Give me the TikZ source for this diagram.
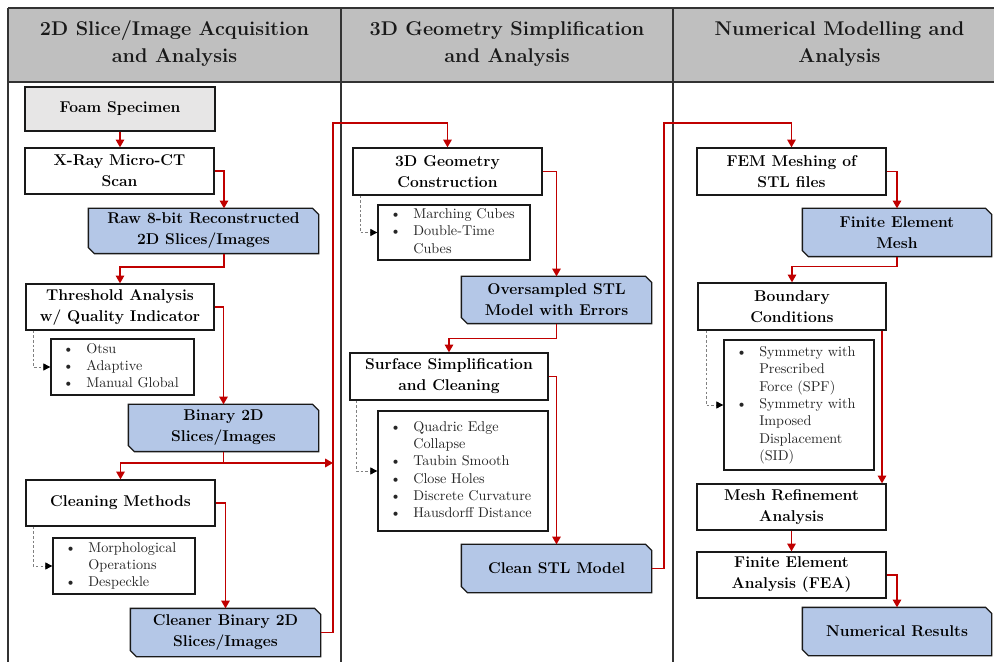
\documentclass[tikz,border=0pt]{standalone}
\usetikzlibrary{arrows.meta,backgrounds}
\definecolor{hdrgray}{HTML}{BFBFBF}
\definecolor{foamgray}{HTML}{E7E6E6}
\definecolor{boxblue}{HTML}{B4C7E7}
\definecolor{arrred}{HTML}{C00000}
\definecolor{framegray}{HTML}{333333}
\newcommand\pxu{0.704pt}
\newcommand\chamf[1]{\filldraw[fill=boxblue,draw=black!90,line width=0.9pt] (#1.north west) -- ([xshift=-6*\pxu]#1.north east) -- ([yshift=-6*\pxu]#1.north east) -- (#1.south east) -- ([xshift=6*\pxu]#1.south west) -- ([yshift=6*\pxu]#1.south west) -- cycle;}
\newcommand\lst[1]{\begin{tabular}{@{}l@{\hspace{8.6pt}}l@{}}#1\end{tabular}}
\begin{document}
\begin{tikzpicture}[x=\pxu,y=-\pxu,
  box/.style={draw=black!90, line width=0.9pt, fill=white, inner sep=0pt, align=center, font=\fontsize{11}{14.8}\selectfont\bfseries, text=black},
  sz/.style 2 args={minimum width={#1*\pxu}, minimum height={#2*\pxu}},
  bluebox/.style={box, draw=none, fill=none},
  listbox/.style={draw=black!90, line width=0.9pt, fill=white, inner xsep=8.45pt, inner ysep=0pt, align=left, font=\fontsize{10}{12.2}\selectfont, text=black!85},
  hdr/.style={font=\fontsize{14}{19}\selectfont\bfseries, align=center, text=black!90},
  frame/.style={draw=framegray, line width=0.9pt},
  arr/.style={draw=arrred, line width=1.1pt, -{Triangle[length=5.5pt,width=6pt]}},
  redline/.style={draw=arrred, line width=1.1pt},
  dotarr/.style={draw=gray, line width=0.6pt, dash pattern=on 1.8pt off 1.5pt, -{Triangle[length=5pt,width=5pt,color=black]}}
]
\useasboundingbox (0,0) rectangle (994,662);
\clip (0,0) rectangle (994,662);
% header and frame
\fill[hdrgray] (8,8) rectangle (1006,82);
\draw[frame] (8,8) -- (1006,8) (8,82) -- (1006,82)
  (8,8) -- (8,700) (341,8) -- (341,700) (673,8) -- (673,700) (1006,8) -- (1006,700);
\node[hdr] (h1) at (174.5,44) {2D Slice/Image Acquisition\\and Analysis};
\node[hdr] (h2) at (507,44) {3D Geometry Simplification\\and Analysis};
\node[hdr] (h3) at (839.5,44) {Numerical Modelling and\\Analysis};
% column 1
\node[box, fill=foamgray, sz={190}{44}] (foam) at (120,109) {Foam Specimen};
\node[box, sz={189}{46}] (xray) at (119.5,171) {X-Ray Micro-CT\\Scan};
\node[bluebox, sz={229}{44}] (raw) at (203.5,231) {Raw 8-bit Reconstructed\\2D Slices/Images};
\node[box, sz={188}{46}] (thresh) at (120,307) {Threshold Analysis\\w/ Quality Indicator};
\node[listbox, text width=83.78pt, sz={143}{56}] (list1) at (122.5,367) {\lst{\textbullet & Otsu\\ \textbullet & Adaptive\\ \textbullet & Manual Global}};
\node[bluebox, sz={189}{46}] (binary) at (223.5,428) {Binary 2D\\Slices/Images};
\node[box, sz={189}{46}] (cleaning) at (120.5,503) {Cleaning Methods};
\node[listbox, text width=83.07pt, sz={142}{56}] (list2) at (124,566) {\lst{\textbullet & Morphological\\ & Operations\\ \textbullet & Despeckle}};
\node[bluebox, sz={189}{47}] (cleaner) at (225.5,632.5) {Cleaner Binary 2D\\Slices/Images};
% column 2
\node[box, sz={189}{47}] (geo) at (447.5,171.5) {3D Geometry\\Construction};
\node[listbox, text width=90.11pt, sz={152}{55}] (list3) at (454,232.5) {\lst{\textbullet & Marching Cubes\\ \textbullet & Double-Time\\ & Cubes}};
\node[bluebox, sz={189}{46}] (over) at (556.5,300) {Oversampled STL\\Model with Errors};
\node[box, sz={198}{47}] (surf) at (449,376.5) {Surface Simplification\\and Cleaning};
\node[listbox, text width=102.78pt, sz={170}{120}] (list4) at (463,471) {\lst{\textbullet & Quadric Edge\\ & Collapse\\ \textbullet & Taubin Smooth\\ \textbullet & Close Holes\\ \textbullet & Discrete Curvature\\ \textbullet & Hausdorff Distance}};
\node[bluebox, sz={189}{47}] (clean) at (556.5,568.5) {Clean STL Model};
% column 3
\node[box, sz={189}{47}] (fem) at (791.5,171.5) {FEM Meshing of\\STL files};
\node[bluebox, sz={188}{47}] (mesh) at (897,232.5) {Finite Element\\Mesh};
\node[box, sz={188}{47}] (bc) at (792,306.5) {Boundary\\Conditions};
\node[listbox, text width=88.70pt, sz={150}{130}] (list5) at (799,405) {\lst{\textbullet & Symmetry with\\ & Prescribed\\ & Force (SPF)\\ \textbullet & Symmetry with\\ & Imposed\\ & Displacement\\ & (SID)}};
\node[box, sz={189}{46}] (refine) at (791.5,507) {Mesh Refinement\\Analysis};
\node[box, sz={189}{46}] (fea) at (791.5,575) {Finite Element\\Analysis (FEA)};
\node[bluebox, sz={188}{47}] (num) at (897,631.5) {Numerical Results};
\begin{pgfonlayer}{background}
\chamf{raw}\chamf{binary}\chamf{cleaner}\chamf{over}\chamf{clean}\chamf{mesh}\chamf{num}
\end{pgfonlayer}
% connectors column 1
\draw[arr] (foam.south) -- (foam.south |- xray.north);
\draw[arr] (xray.east) -| (224,0 |- raw.north);
\draw[arr] (224,0 |- raw.south) -- (224,267) -| (thresh.north);
\draw[dotarr] (33,0 |- thresh.south) |- (list1.west);
\draw[arr] (thresh.east) -| (binary.north);
\coordinate (j1) at (binary.south |- 0,463);
\coordinate (bus1) at (333,463);
\draw[redline] (binary.south) -- (j1);
\draw[arr] (j1) -| (cleaning.north);
\draw[arr] (j1) -- (bus1);
\draw[dotarr] (33,0 |- cleaning.south) |- (list2.west);
\draw[arr] (cleaning.east) -| (cleaner.north);
\draw[arr] (cleaner.east) -| (333,123) -| (geo.north);
% connectors column 2
\draw[dotarr] (360,0 |- geo.south) |- (list3.west);
\draw[arr] (geo.east) -| (over.north);
\draw[arr] (over.south) -- ++(0,15) -| (surf.north);
\draw[dotarr] (356,0 |- surf.south) |- (list4.west);
\draw[arr] (surf.east) -| (clean.north);
\draw[arr] (clean.east) -| (664,123) -| (fem.north);
% connectors column 3
\draw[arr] (fem.east) -| (mesh.north);
\draw[arr] (mesh.south) -- ++(0,10) -| (bc.north);
\draw[dotarr] (706,0 |- bc.south) |- (list5.west);
\draw[arr] (882,0 |- bc.south) -- (882,0 |- refine.north);
\draw[arr] (refine.south) -- (refine.south |- fea.north);
\draw[arr] (fea.east) -| (num.north);
\end{tikzpicture}
\end{document}
